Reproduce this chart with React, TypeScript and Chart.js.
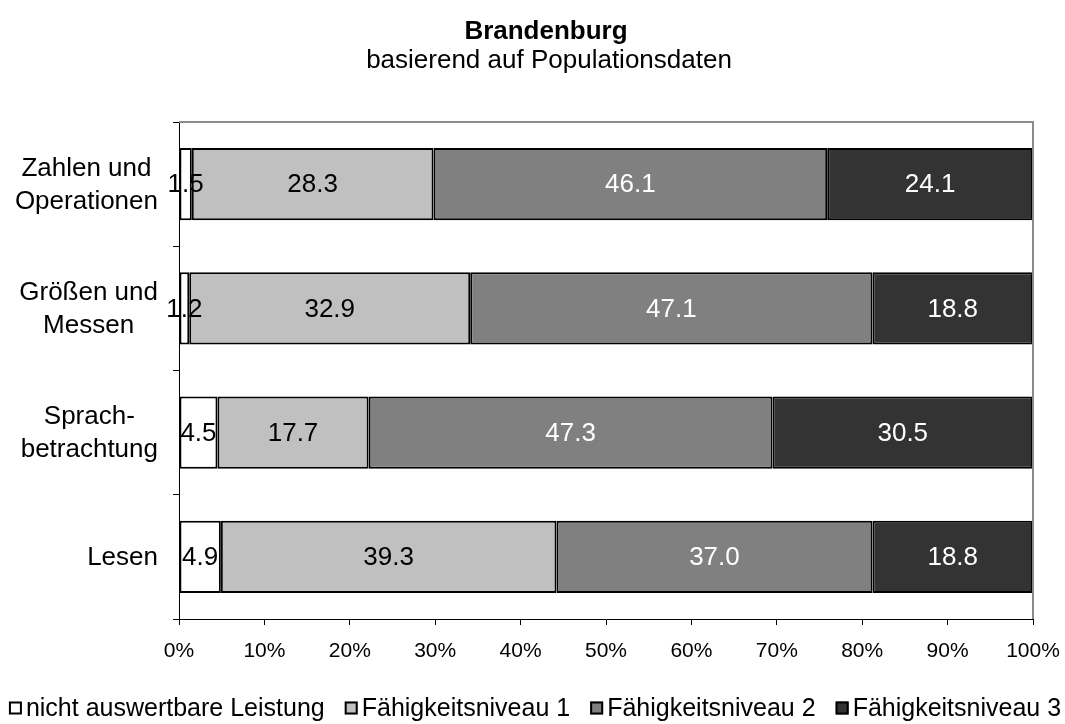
import React, { useEffect, useRef } from "react";
import { Chart, registerables } from "chart.js";

Chart.register(...registerables);

const categories: string[][] = [
  ["Zahlen und", "Operationen"],
  ["Größen und", "Messen"],
  ["Sprach-", "betrachtung"],
  ["Lesen"],
];
const seriesNames = [
  "nicht auswertbare Leistung",
  "Fähigkeitsniveau 1",
  "Fähigkeitsniveau 2",
  "Fähigkeitsniveau 3",
];
const notEvaluable = [1.5, 1.2, 4.5, 4.9];
const level1 = [28.3, 32.9, 17.7, 39.3];
const level2 = [46.1, 47.1, 47.3, 37.0];
const level3 = [24.1, 18.8, 30.5, 18.8];
const xTickValues = [0, 10, 20, 30, 40, 50, 60, 70, 80, 90, 100];
const titleText = "Brandenburg";
const subtitleText = "basierend auf Populationsdaten";

const fillColors = ["#FFFFFF", "#C0C0C0", "#808080", "#333333"];
const labelColors = ["#000000", "#000000", "#FFFFFF", "#FFFFFF"];
const FONT = "'Liberation Sans', Arial, sans-serif";

const customDraw = {
  id: "customDraw",
  afterDraw(chart: any) {
    const ctx = chart.ctx as CanvasRenderingContext2D;
    const area = chart.chartArea;
    ctx.save();

    // plot border top & right (gray)
    ctx.strokeStyle = "#8C8C8C";
    ctx.lineWidth = 2;
    ctx.beginPath();
    ctx.moveTo(area.left, area.top);
    ctx.lineTo(area.right, area.top);
    ctx.lineTo(area.right, area.bottom);
    ctx.stroke();

    // data labels
    ctx.font = `26px ${FONT}`;
    ctx.textAlign = "center";
    ctx.textBaseline = "middle";
    chart.data.datasets.forEach((ds: any, di: number) => {
      const meta = chart.getDatasetMeta(di);
      meta.data.forEach((el: any, i: number) => {
        const v = ds.data[i] as number;
        const cx = (el.x + el.base) / 2;
        ctx.fillStyle = labelColors[di];
        ctx.fillText(v.toFixed(1), cx, el.y + 1);
      });
    });

    // category labels
    const yScale = chart.scales.y;
    ctx.fillStyle = "#000";
    categories.forEach((lines, i) => {
      const cy = yScale.getPixelForValue(i);
      const widths = lines.map((l) => ctx.measureText(l).width);
      const maxW = Math.max(...widths);
      const cx = 158 - maxW / 2;
      const lh = 33;
      const startY = cy - ((lines.length - 1) * lh) / 2;
      lines.forEach((l, k) => {
        ctx.fillText(l, cx, startY + k * lh + 1);
      });
    });

    // title
    ctx.font = `bold 26px ${FONT}`;
    ctx.fillText(titleText, 546, 32);
    ctx.font = `26px ${FONT}`;
    ctx.fillText(subtitleText, 549, 61);

    // legend
    ctx.font = `25px ${FONT}`;
    const box = 13;
    const boxGap = 4;
    const itemGap = 20;
    const widths = seriesNames.map((n) => ctx.measureText(n).width);
    const total =
      widths.reduce((a, b) => a + b, 0) + seriesNames.length * (box + boxGap) + (seriesNames.length - 1) * itemGap;
    let x = 535 - total / 2;
    const ly = 708;
    ctx.textAlign = "left";
    seriesNames.forEach((n, i) => {
      ctx.fillStyle = fillColors[i];
      ctx.fillRect(x, ly - box / 2, box, box);
      ctx.strokeStyle = "#000";
      ctx.lineWidth = 2;
      ctx.strokeRect(x + 1, ly - box / 2 + 1, box - 2, box - 2);
      x += box + boxGap;
      ctx.fillStyle = "#000";
      ctx.fillText(n, x, ly + 1);
      x += widths[i] + itemGap;
    });

    ctx.restore();
  },
};

export default function App() {
  const ref = useRef<HTMLCanvasElement | null>(null);
  useEffect(() => {
    document.body.style.margin = "0";
    const canvas = ref.current!;
    const seriesData = [notEvaluable, level1, level2, level3];
    const chart = new Chart(canvas, {
      type: "bar",
      data: {
        labels: categories.map((c) => c.join(" ")),
        datasets: seriesNames.map((name, i) => ({
          label: name,
          data: seriesData[i],
          backgroundColor: fillColors[i],
          borderColor: "#000000",
          borderWidth: 2,
          borderSkipped: false,
          categoryPercentage: 1,
          barPercentage: 0.58,
        })),
      },
      options: {
        indexAxis: "y",
        animation: false,
        responsive: false,
        devicePixelRatio: 1,
        layout: { padding: { top: 122, right: 32, left: 0, bottom: 0 } },
        plugins: {
          legend: { display: false },
          title: { display: false },
          tooltip: { enabled: false },
        },
        scales: {
          x: {
            stacked: true,
            min: 0,
            max: 100,
            afterFit: (s: any) => {
              s.height = 105;
              s.paddingLeft = 0;
              s.paddingRight = 0;
            },
            afterBuildTicks: (s: any) => {
              s.ticks = xTickValues.map((v) => ({ value: v }));
            },
            ticks: {
              callback: (v: any) => `${v}%`,
              color: "#000",
              font: { family: FONT, size: 21 },
              padding: 14,
              maxRotation: 0,
            },
            grid: {
              drawOnChartArea: false,
              drawTicks: true,
              tickLength: 6,
              color: "#000",
            },
            border: { color: "#000", width: 1 },
          },
          y: {
            stacked: true,
            afterFit: (s: any) => {
              s.width = 179;
            },
            ticks: { display: false },
            grid: {
              drawOnChartArea: false,
              drawTicks: true,
              tickLength: 6,
              color: "#000",
              offset: true,
            },
            border: { color: "#000", width: 1 },
          },
        },
      },
      plugins: [customDraw],
    });
    return () => chart.destroy();
  }, []);
  return <canvas ref={ref} width={1065} height={724} style={{ display: "block" }} />;
}
